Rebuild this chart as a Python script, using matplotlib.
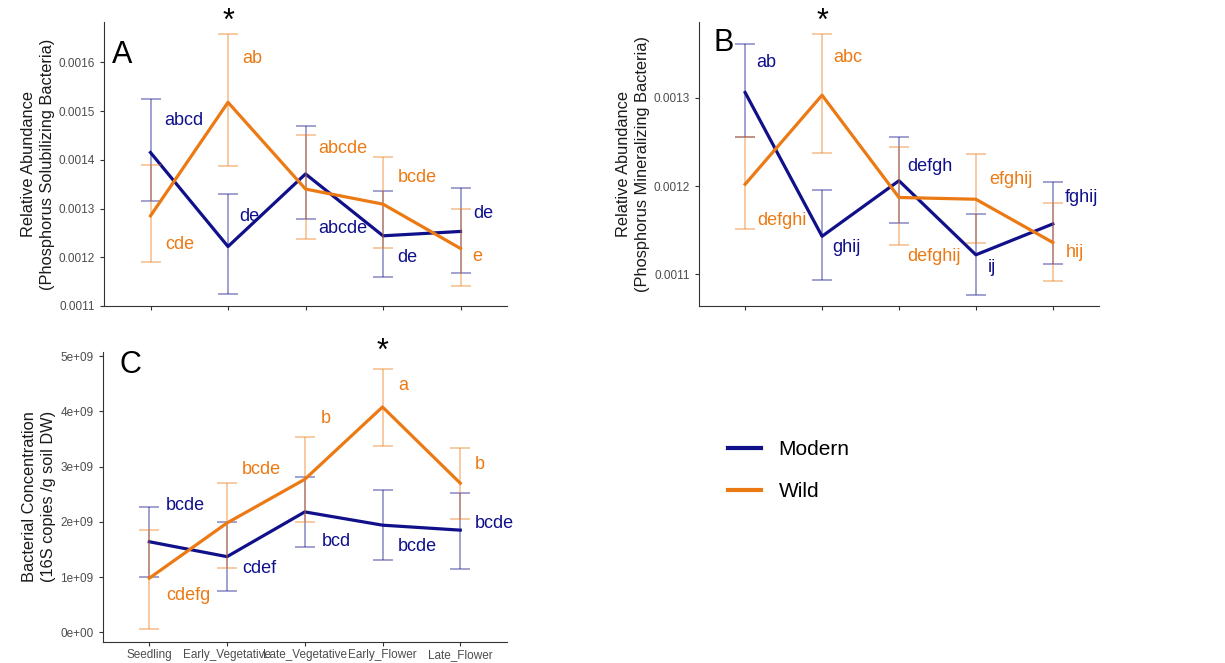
import matplotlib
matplotlib.use("Agg")
import matplotlib.pyplot as plt
import matplotlib.transforms as mtransforms
from matplotlib.lines import Line2D

plt.rcParams['font.family'] = ['Liberation Sans', 'DejaVu Sans']

stages = ['Seedling', 'Early_Vegetative', 'Late_Vegetative', 'Early_Flower', 'Late_Flower']

# panel A - phosphorus solubilizing bacteria
a_mod = [0.001415, 0.001222, 0.001371, 0.001244, 0.001253]
a_mod_hi = [0.001524, 0.001329, 0.001470, 0.001335, 0.001342]
a_mod_lo = [0.001315, 0.001125, 0.001278, 0.001160, 0.001167]
a_wild = [0.001285, 0.001518, 0.001340, 0.001309, 0.001218]
a_wild_hi = [0.001389, 0.001658, 0.001451, 0.001405, 0.001299]
a_wild_lo = [0.001190, 0.001388, 0.001237, 0.001220, 0.001141]
a_mod_letters = ['abcd', 'de', 'abcde', 'de', 'de']
a_wild_letters = ['cde', 'ab', 'abcde', 'bcde', 'e']

# panel B - phosphorus mineralizing bacteria
b_mod = [0.001306, 0.001143, 0.001206, 0.001122, 0.001157]
b_mod_hi = [0.001361, 0.001195, 0.001256, 0.001168, 0.001204]
b_mod_lo = [0.001255, 0.001094, 0.001158, 0.001077, 0.001112]
b_wild = [0.001202, 0.001303, 0.001187, 0.001185, 0.001136]
b_wild_hi = [0.001255, 0.001372, 0.001244, 0.001236, 0.001181]
b_wild_lo = [0.001151, 0.001237, 0.001133, 0.001135, 0.001092]
b_mod_letters = ['ab', 'ghij', 'defgh', 'ij', 'fghij']
b_wild_letters = ['defghi', 'abc', 'defghij', 'efghij', 'hij']

# panel C - 16S copies
c_mod = [1.64e9, 1.37e9, 2.18e9, 1.94e9, 1.85e9]
c_mod_hi = [2.27e9, 2.00e9, 2.81e9, 2.57e9, 2.52e9]
c_mod_lo = [1.01e9, 0.75e9, 1.54e9, 1.31e9, 1.15e9]
c_wild = [0.98e9, 1.98e9, 2.77e9, 4.08e9, 2.70e9]
c_wild_hi = [1.85e9, 2.71e9, 3.53e9, 4.76e9, 3.33e9]
c_wild_lo = [0.06e9, 1.16e9, 1.99e9, 3.38e9, 2.06e9]
c_mod_letters = ['bcde', 'cdef', 'bcd', 'bcde', 'bcde']
c_wild_letters = ['cdefg', 'bcde', 'b', 'a', 'b']

# where the letters sit (x in category units, y in data units)
a_mod_lab = ([1.43, 2.28, 3.48, 4.31, 5.29], [0.00148, 0.001283, 0.001258, 0.001199, 0.001289])
a_wild_lab = ([1.38, 2.31, 3.48, 4.44, 5.22], [0.001227, 0.001607, 0.001424, 0.001363, 0.001201])
b_mod_lab = ([1.28, 2.32, 3.40, 4.21, 5.37], [0.00134, 0.00113, 0.001222, 0.001108, 0.001187])
b_wild_lab = ([1.48, 2.34, 3.46, 4.45, 5.29], [0.001161, 0.001346, 0.00112, 0.001207, 0.001125])
c_mod_lab = ([1.46, 2.42, 3.40, 4.45, 5.44], [2.30e9, 1.16e9, 1.64e9, 1.56e9, 1.97e9])
c_wild_lab = ([1.50, 2.44, 3.27, 4.27, 5.25], [0.66e9, 2.95e9, 3.87e9, 4.47e9, 3.04e9])

MOD = '#10108a'
WILD = '#ec7a14'
x = [1, 2, 3, 4, 5]

fig = plt.figure(figsize=(12.25, 6.63), dpi=100)
axA = fig.add_axes([0.0849, 0.5385, 0.329, 0.4284])
axB = fig.add_axes([0.5706, 0.5385, 0.3265, 0.4284])
axC = fig.add_axes([0.0838, 0.0321, 0.330, 0.4374])


def draw(ax, mod, mod_hi, mod_lo, wild, wild_hi, wild_lo):
    for mean, hi, lo, col in [(mod, mod_hi, mod_lo, MOD), (wild, wild_hi, wild_lo, WILD)]:
        err = [[m - l for m, l in zip(mean, lo)], [h - m for m, h in zip(mean, hi)]]
        ax.errorbar(x, mean, yerr=err, fmt='none', ecolor=col, alpha=0.5,
                    elinewidth=1.1, capsize=7.5, capthick=1.1)
        ax.plot(x, mean, color=col, lw=2.3)
    ax.spines['top'].set_visible(False)
    ax.spines['right'].set_visible(False)
    ax.spines['left'].set_color('#333333')
    ax.spines['bottom'].set_color('#333333')
    ax.tick_params(axis='both', colors='#333333', labelcolor='#4d4d4d',
                   labelsize=8.5, length=3)
    ax.tick_params(axis='x', pad=2)
    ax.set_xlim(0.4, 5.6)
    ax.set_xticks(x)


def letters(ax, labs, pos, col):
    for t, px, py in zip(labs, pos[0], pos[1]):
        ax.text(px, py, t, color=col, fontsize=13, ha='center', va='center')


draw(axA, a_mod, a_mod_hi, a_mod_lo, a_wild, a_wild_hi, a_wild_lo)
axA.set_ylim(0.0011, 0.001683)
axA.set_yticks([0.0011, 0.0012, 0.0013, 0.0014, 0.0015, 0.0016])
axA.set_yticklabels(['0.0011', '0.0012', '0.0013', '0.0014', '0.0015', '0.0016'])
axA.set_xticklabels([])
letters(axA, a_mod_letters, a_mod_lab, MOD)
letters(axA, a_wild_letters, a_wild_lab, WILD)

draw(axB, b_mod, b_mod_hi, b_mod_lo, b_wild, b_wild_hi, b_wild_lo)
axB.set_ylim(0.001064, 0.001386)
axB.set_yticks([0.0011, 0.0012, 0.0013])
axB.set_yticklabels(['0.0011', '0.0012', '0.0013'])
axB.set_xticklabels([])
letters(axB, b_mod_letters, b_mod_lab, MOD)
letters(axB, b_wild_letters, b_wild_lab, WILD)

draw(axC, c_mod, c_mod_hi, c_mod_lo, c_wild, c_wild_hi, c_wild_lo)
axC.set_ylim(-0.17e9, 5.08e9)
axC.set_yticks([0, 1e9, 2e9, 3e9, 4e9, 5e9])
axC.set_yticklabels(['0e+00', '1e+09', '2e+09', '3e+09', '4e+09', '5e+09'])
axC.set_xticklabels(stages)
letters(axC, c_mod_letters, c_mod_lab, MOD)
letters(axC, c_wild_letters, c_wild_lab, WILD)

ylabels = [
    (axA, 'Relative Abundance\n(Phosphorus Solubilizing Bacteria)', -66 / 403),
    (axB, 'Relative Abundance\n(Phosphorus Mineralizing Bacteria)', -66 / 400),
    (axC, 'Bacterial Concentration\n(16S copies /g soil DW)', -64 / 404),
]
for ax, lab, xc in ylabels:
    ax.set_ylabel(lab, fontsize=11.8, color='#1a1a1a', va='center', linespacing=1.35)
    ax.yaxis.set_label_coords(xc, 0.5)

# panel tags and significance stars
for ax, tag, tx, ty in [(axA, 'A', 0.046, 0.884), (axB, 'B', 0.0625, 0.926), (axC, 'C', 0.069, 0.954)]:
    ax.text(tx, ty, tag, transform=ax.transAxes, fontsize=22, ha='center', va='center')

for ax, sx, sy in [(axA, 2, 1.0), (axB, 2, 1.0), (axC, 4, 0.998)]:
    tr = mtransforms.blended_transform_factory(ax.transData, ax.transAxes)
    ax.text(sx, sy, '*', transform=tr, fontsize=22, ha='center', va='center', clip_on=False)

handles = [Line2D([], [], color=MOD, lw=3), Line2D([], [], color=WILD, lw=3)]
fig.legend(handles, ['Modern', 'Wild'], loc='center left', bbox_to_anchor=(0.594, 0.29),
           frameon=False, fontsize=15, handlelength=1.6, handletextpad=0.85,
           labelspacing=1.12, borderpad=0, borderaxespad=0)

fig.savefig('out.png', dpi=100)
